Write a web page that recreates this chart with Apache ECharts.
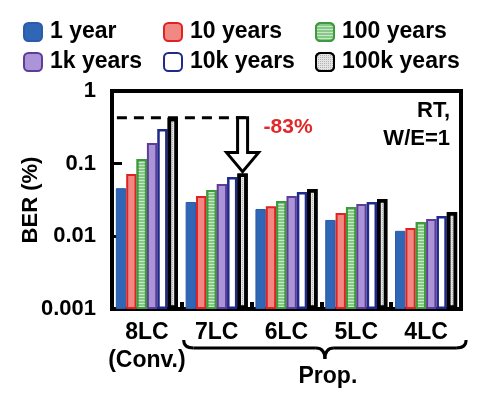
<!DOCTYPE html>
<html>
<head>
<meta charset="utf-8">
<script src="https://cdn.jsdelivr.net/npm/echarts@6/dist/echarts.min.js"></script>
<style>
  html, body { margin: 0; padding: 0; background: #fff; }
  #chart { width: 500px; height: 398px; }
</style>
</head>
<body>
<div id="chart"></div>
<script>
const FONT = '"Liberation Sans", Arial, sans-serif';

// categories and notes under them
const categories = ['8LC', '7LC', '6LC', '5LC', '4LC'];
const catNotes = ['(Conv.)', '', '', '', ''];
const yTickLabels = ['1', '0.1', '0.01', '0.001'];

// BER (%)
const ber1y   = [0.046, 0.0297, 0.0238, 0.0168, 0.0119];
const ber10y  = [0.072, 0.036, 0.026, 0.021, 0.0130];
const ber100y = [0.116, 0.0435, 0.0307, 0.0254, 0.0158];
const ber1k   = [0.193, 0.0526, 0.036, 0.0279, 0.0173];
const ber10k  = [0.30, 0.0656, 0.0408, 0.0297, 0.0191];
const ber100k = [0.43, 0.073, 0.0449, 0.0327, 0.0217];

const names = ['1 year', '10 years', '100 years', '1k years', '10k years', '100k years'];
const values = [ber1y, ber10y, ber100y, ber1k, ber10k, ber100k];

const styles = [
  { color: '#2f66b6', borderColor: '#2a5ca8', borderWidth: 1 },
  { color: '#f08884', borderColor: '#e02222', borderWidth: 2 },
  { color: '#86c886', borderColor: '#3d9a3d', borderWidth: 2,
    decal: { symbol: 'rect', symbolSize: 1, dashArrayX: [1, 0], dashArrayY: [1, 1.5], color: 'rgba(255,255,255,0.55)' } },
  { color: '#ab94d8', borderColor: '#5e3d98', borderWidth: 2 },
  { color: '#ffffff', borderColor: '#1f2a8c', borderWidth: 2.5 },
  { color: '#e4e4e4', borderColor: '#000000', borderWidth: 3.5,
    decal: { symbol: 'rect', symbolSize: 1, dashArrayX: [1, 1], dashArrayY: [1, 1], color: 'rgba(120,120,120,0.45)' } }
];

const chart = echarts.init(document.getElementById('chart'));

const legendCol = (left, data) => ({
  data: data,
  orient: 'vertical',
  left: left,
  top: 20,
  padding: 0,
  itemWidth: 18,
  itemHeight: 18,
  itemGap: 6,
  icon: 'roundRect',
  selectedMode: false,
  textStyle: { fontFamily: FONT, fontWeight: 'bold', fontSize: 23, lineHeight: 24, color: '#000', padding: [0, 0, 0, 3] }
});

const option = {
  animation: false,
  legend: [
    legendCol(23, [names[0], names[3]]),
    legendCol(163, [names[1], names[4]]),
    legendCol(315, [names[2], names[5]])
  ],
  grid: {
    left: 112, right: 39, top: 91, bottom: 89,
    show: true, borderColor: '#000', borderWidth: 4
  },
  xAxis: {
    type: 'category',
    data: categories,
    axisLine: { lineStyle: { color: '#000', width: 4 } },
    axisTick: { show: true, inside: true, length: 7, interval: 0, lineStyle: { color: '#000', width: 4 } },
    axisLabel: {
      interval: 0, margin: 10,
      fontFamily: FONT, fontWeight: 'bold', fontSize: 23, lineHeight: 28, color: '#000',
      formatter: (v, i) => catNotes[i] ? v + '\n' + catNotes[i] : v
    }
  },
  yAxis: {
    type: 'log',
    logBase: 10,
    min: 0.001,
    max: 1,
    startValue: 0.001,
    name: 'BER (%)',
    nameLocation: 'middle',
    nameGap: 70,
    nameMoveOverlap: false,
    nameTextStyle: { fontFamily: FONT, fontWeight: 'bold', fontSize: 22, color: '#000' },
    axisLine: { show: true, lineStyle: { color: '#000', width: 4 } },
    axisTick: { show: true, inside: true, length: 10, lineStyle: { color: '#000', width: 3 } },
    splitLine: { show: false },
    minorTick: { show: false },
    axisLabel: {
      margin: 16,
      fontFamily: FONT, fontWeight: 'bold', fontSize: 22, color: '#000',
      formatter: v => yTickLabels[-Math.round(Math.log10(v))]
    }
  },
  series: names.map((n, i) => ({
    name: n,
    type: 'bar',
    data: values[i],
    barGap: '0%',
    barCategoryGap: '11%',
    itemStyle: styles[i],
    z: 2 + i
  }))
};

chart.setOption(option);

// annotations placed from the data through the axes
function drawNotes() {
  const layout = chart.getModel().getSeriesByIndex(5).getData().getItemLayout(1);
  const cx = layout.x + layout.width / 2;
  const yTip = Math.min(layout.y, layout.y + layout.height) - 2;
  const yRef = chart.convertToPixel({ yAxisIndex: 0 }, ber100k[0]);
  const xLeft = chart.convertToPixel({ xAxisIndex: 0 }, categories[0]) - 30;
  const headTop = yTip - 19;

  const c7 = chart.convertToPixel({ xAxisIndex: 0 }, categories[1]);
  const c4 = chart.convertToPixel({ xAxisIndex: 0 }, categories[4]);
  const bx0 = c7 - 33, bx1 = c4 + 40, bm = (bx0 + bx1) / 2;
  const by0 = 340, by1 = 348, by2 = 359;
  const braceStyle = { fill: null, stroke: '#000', lineWidth: 3 };
  const curve = (x1, y1, cx1, cy1, x2, y2) => ({
    type: 'bezierCurve', z: 20,
    shape: { x1: x1, y1: y1, cpx1: cx1, cpy1: cy1, x2: x2, y2: y2 },
    style: braceStyle
  });

  chart.setOption({
    graphic: [
      {
        type: 'line', z: 20,
        shape: { x1: xLeft, y1: yRef, x2: cx + 5, y2: yRef },
        style: { stroke: '#000', lineWidth: 3, lineDash: [10, 7] }
      },
      {
        type: 'polygon', z: 21,
        shape: { points: [
          [cx - 5, yRef], [cx + 5, yRef], [cx + 5, headTop], [cx + 16, headTop],
          [cx, yTip], [cx - 16, headTop], [cx - 5, headTop]
        ] },
        style: { fill: '#fff', stroke: '#000', lineWidth: 3 }
      },
      {
        type: 'text', z: 22, x: cx + 21, y: yRef + 10,
        style: { text: '-83%', fill: '#e02828', font: 'bold 21px ' + FONT, textAlign: 'left', textVerticalAlign: 'middle' }
      },
      {
        type: 'text', z: 22, x: 450, y: 97,
        style: { text: 'RT,\nW/E=1', fill: '#000', font: 'bold 22px ' + FONT, lineHeight: 28, textAlign: 'right', textVerticalAlign: 'top' }
      },
      curve(bx0, by0, bx0, by1, bx0 + 10, by1),
      { type: 'line', z: 20, shape: { x1: bx0 + 10, y1: by1, x2: bm - 9, y2: by1 }, style: braceStyle },
      curve(bm - 9, by1, bm, by1, bm, by2),
      curve(bm, by2, bm, by1, bm + 9, by1),
      { type: 'line', z: 20, shape: { x1: bm + 9, y1: by1, x2: bx1 - 10, y2: by1 }, style: braceStyle },
      curve(bx1 - 10, by1, bx1, by1, bx1, by0),
      {
        type: 'text', z: 22, x: bm + 3, y: 377,
        style: { text: 'Prop.', fill: '#000', font: 'bold 23px ' + FONT, textAlign: 'center', textVerticalAlign: 'middle' }
      }
    ]
  });
}
drawNotes();
</script>
</body>
</html>
